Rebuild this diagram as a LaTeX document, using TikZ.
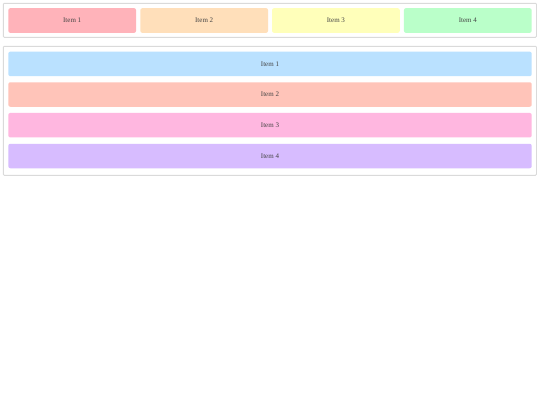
\documentclass[tikz,border=0pt]{standalone}
\usepackage{fontspec}
\setmainfont{Liberation Serif}
\definecolor{cA}{HTML}{FFB3BA}
\definecolor{cB}{HTML}{FFDFBA}
\definecolor{cC}{HTML}{FFFFBA}
\definecolor{cD}{HTML}{BAFFC9}
\definecolor{cE}{HTML}{BAE1FF}
\definecolor{cF}{HTML}{FFC4B9}
\definecolor{cG}{HTML}{FFB7E0}
\definecolor{cH}{HTML}{D7BCFF}
\definecolor{frame}{HTML}{DADADA}
\definecolor{txt}{HTML}{444444}
\tikzset{
  container/.style={draw=frame, line width=0.9pt, fill=white, rounded corners=1pt},
  itembox/.style={rounded corners=2pt, inner sep=0pt, font=\fontsize{7}{8}\selectfont, text=txt},
}
\begin{document}
\begin{tikzpicture}[x=1pt,y=-1pt]
\useasboundingbox (0,0) rectangle (540,405);
% top container
\draw[container] (3.3,3.3) rectangle (536.5,37.3);
\node[itembox, fill=cA, minimum width=127.7pt, minimum height=24.7pt] (t1) at (72.2,20.5) {Item 1};
\node[itembox, fill=cB, minimum width=127.7pt, minimum height=24.7pt] (t2) at (204.2,20.5) {Item 2};
\node[itembox, fill=cC, minimum width=127.7pt, minimum height=24.7pt] (t3) at (335.9,20.5) {Item 3};
\node[itembox, fill=cD, minimum width=127.7pt, minimum height=24.7pt] (t4) at (467.8,20.5) {Item 4};
% bottom container
\draw[container] (3.3,46.3) rectangle (536.5,175.3);
\node[itembox, fill=cE, minimum width=523.4pt, minimum height=24.5pt] (b1) at (270,63.9) {Item 1};
\node[itembox, fill=cF, minimum width=523.4pt, minimum height=24.5pt] (b2) at (270,94.5) {Item 2};
\node[itembox, fill=cG, minimum width=523.4pt, minimum height=24.5pt] (b3) at (270,125.2) {Item 3};
\node[itembox, fill=cH, minimum width=523.4pt, minimum height=24.5pt] (b4) at (270,156.0) {Item 4};
\end{tikzpicture}
\end{document}
